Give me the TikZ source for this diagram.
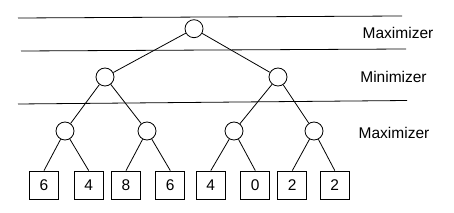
\documentclass[tikz,border=0pt]{standalone}
\usepackage{fontspec}
\setmainfont{Liberation Sans}
\begin{document}
\begin{tikzpicture}[x=1pt,y=-1pt,
  every path/.style={line width=0.8pt},
  gnode/.style={draw,circle,minimum size=18pt,inner sep=0pt},
  leaf/.style={draw,rectangle,minimum width=29pt,minimum height=28pt,inner sep=0pt,font=\fontsize{15.5}{18}\selectfont},
  lvl/.style={font=\fontsize{15.5}{18}\selectfont,inner sep=0pt}]
\useasboundingbox (0,0) rectangle (454,213);
% level lines
\coordinate (l1a) at (18,18); \coordinate (l1b) at (402,16);
\coordinate (l2a) at (21,51); \coordinate (l2b) at (406,49);
\coordinate (l3a) at (18,104); \coordinate (l3b) at (407,100.5);
\draw (l1a) -- (l1b);
\draw (l2a) -- (l2b);
\draw (l3a) -- (l3b);
% nodes
\node[gnode] (r) at (194,28.7) {};
\node[gnode] (m1) at (105,77) {};
\node[gnode] (m2) at (278,77) {};
\node[gnode] (x1) at (65,131) {};
\node[gnode] (x2) at (147,131) {};
\node[gnode] (x3) at (234,131) {};
\node[gnode] (x4) at (314,131) {};
\node[leaf] (a1) at (44,185) {6};
\node[leaf] (a2) at (88.7,185) {4};
\node[leaf] (a3) at (126,185) {8};
\node[leaf] (a4) at (170.3,185) {6};
\node[leaf] (a5) at (210.8,185) {4};
\node[leaf] (a6) at (255.3,185) {0};
\node[leaf] (a7) at (292.3,185) {2};
\node[leaf] (a8) at (334.8,185) {2};
% edges
\draw (r) -- (m1); \draw (r) -- (m2);
\draw (m1) -- (x1); \draw (m1) -- (x2);
\draw (m2) -- (x3); \draw (m2) -- (x4);
\draw (x1) -- (a1.north); \draw (x1) -- (a2.north);
\draw (x2) -- (a3.north); \draw (x2) -- (a4.north);
\draw (x3) -- (a5.north); \draw (x3) -- (a6.north);
\draw (x4) -- (a7.north); \draw (x4) -- (a8.north);
% labels
\node[lvl] (t1) at (398,32.5) {Maximizer};
\node[lvl] (t2) at (393.5,77) {Minimizer};
\node[lvl] (t3) at (394,133) {Maximizer};
\end{tikzpicture}
\end{document}
